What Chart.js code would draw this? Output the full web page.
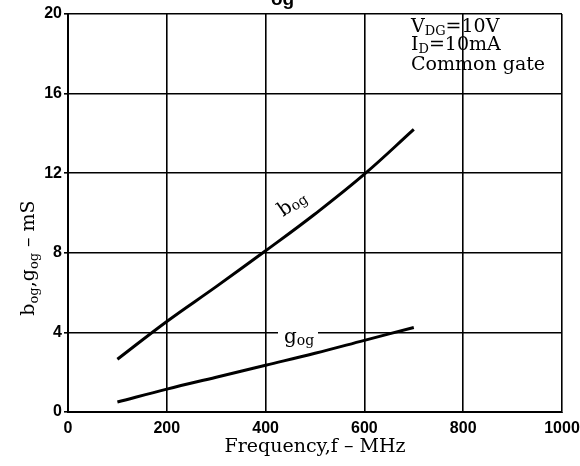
<!DOCTYPE html>
<html>
<head>
<meta charset="utf-8">
<script src="https://cdn.jsdelivr.net/npm/chart.js@4.4.1/dist/chart.umd.min.js"></script>
<style>
  html,body{margin:0;padding:0;background:#fff;}
  #wrap{width:580px;height:466px;}
</style>
</head>
<body>
<div id="wrap"><canvas id="chart" width="580" height="466"></canvas></div>
<script>
/* data */
var freqs  = [100, 200, 300, 400, 500, 600, 700];          // MHz
var bogVals = [2.65, 4.55, 6.3, 8.1, 9.95, 11.95, 14.2];   // mS
var gogVals = [0.5, 1.15, 1.75, 2.35, 2.95, 3.6, 4.25];    // mS
var xTicks = [0, 200, 400, 600, 800, 1000];
var yTicks = [0, 4, 8, 12, 16, 20];

var SERIF = '"DejaVu Serif", "Liberation Serif", serif';
var SANS = '"Liberation Sans", Arial, sans-serif';

function pairs(xs, ys){
  return xs.map(function(x, i){ return {x:x, y:ys[i]}; });
}

// draw a run of text pieces (for subscripts)
function drawRich(ctx, x, y, parts){
  var cx = x;
  parts.forEach(function(p){
    ctx.font = p.font;
    ctx.fillText(p.t, cx, y + (p.dy || 0));
    cx += ctx.measureText(p.t).width;
  });
  return cx;
}
function richWidth(ctx, parts){
  var w = 0;
  parts.forEach(function(p){ ctx.font = p.font; w += ctx.measureText(p.t).width; });
  return w;
}

var labelsPlugin = {
  id:'labels',
  afterDraw:function(chart){
    var ctx = chart.ctx, xs = chart.scales.x, ys = chart.scales.y;
    ctx.save();
    ctx.fillStyle = '#000';
    ctx.textBaseline = 'alphabetic';
    ctx.textAlign = 'left';

    // clipped title at the very top
    drawRich(ctx, 256, 3, [{t:'-', font:'bold 18px '+SANS}]);
    drawRich(ctx, 271, 5, [{t:'og', font:'bold 19px '+SANS}]);

    // condition box
    var big = '19px '+SERIF, sub = '13px '+SERIF;
    drawRich(ctx, 411, 32, [{t:'V', font:big},{t:'DG', font:sub, dy:3},{t:'=10V', font:big}]);
    drawRich(ctx, 411, 50, [{t:'I', font:big},{t:'D', font:sub, dy:3},{t:'=10mA', font:big}]);
    drawRich(ctx, 411, 70, [{t:'Common gate', font:big}]);

    // y axis title, rotated
    var yParts = [{t:'b', font:'19px '+SERIF},{t:'og', font:'13px '+SERIF, dy:4},
                  {t:',g', font:'19px '+SERIF},{t:'og', font:'13px '+SERIF, dy:4},
                  {t:' \u2013 mS', font:'19px '+SERIF}];
    ctx.save();
    ctx.translate(34, 258);
    ctx.rotate(-Math.PI/2);
    drawRich(ctx, -richWidth(ctx, yParts)/2, 0, yParts);
    ctx.restore();

    // b_og label along its curve
    ctx.save();
    ctx.translate(xs.getPixelForValue(435), ys.getPixelForValue(9.3) - 10);
    ctx.rotate(-0.6);
    drawRich(ctx, 0, 0, [{t:'b', font:'20px '+SERIF},{t:'og', font:'14px '+SERIF, dy:2}]);
    ctx.restore();

    // g_og label sitting on the 4 mS grid line
    var gx = 278, gy = ys.getPixelForValue(4);
    ctx.fillStyle = '#fff';
    ctx.fillRect(gx, gy - 4, 40, 9);
    ctx.fillStyle = '#000';
    drawRich(ctx, gx + 6, gy + 11, [{t:'g', font:'20px '+SERIF},{t:'og', font:'14px '+SERIF, dy:2}]);
    ctx.restore();
  }
};

var ctx = document.getElementById('chart');
new Chart(ctx, {
  type:'line',
  data:{
    datasets:[
      {label:'bog', data:pairs(freqs, bogVals)},
      {label:'gog', data:pairs(freqs, gogVals)}
    ]
  },
  options:{
    responsive:false,
    animation:false,
    devicePixelRatio:1,
    layout:{padding:{top:14, right:18, left:0, bottom:0}},
    elements:{
      line:{borderColor:'#000', borderWidth:3, tension:0.4, fill:false},
      point:{radius:0}
    },
    plugins:{
      legend:{display:false},
      tooltip:{enabled:false}
    },
    scales:{
      x:{
        type:'linear', min:0, max:1000,
        afterBuildTicks:function(s){ s.ticks = xTicks.map(function(v){ return {value:v}; }); },
        afterFit:function(s){ s.height = 54; s.paddingLeft = 0; s.paddingRight = 0; },
        grid:{color:'#000', lineWidth:1.6, tickLength:0},
        border:{color:'#000', width:2},
        ticks:{color:'#000', font:{family:SANS, size:16, weight:'bold'}, padding:7, maxRotation:0,
               callback:function(v){ return String(v); }},
        title:{display:true, text:'Frequency,f \u2013 MHz', color:'#000',
               font:{family:SERIF, size:19}, padding:{top:0, bottom:8}}
      },
      y:{
        type:'linear', min:0, max:20,
        afterBuildTicks:function(s){ s.ticks = yTicks.map(function(v){ return {value:v}; }); },
        afterFit:function(s){ s.width = 68; },
        grid:{color:'#000', lineWidth:1.6, tickLength:4},
        border:{color:'#000', width:2},
        ticks:{color:'#000', font:{family:SANS, size:16, weight:'bold'}, padding:2,
               callback:function(v){ return String(v); }}
      }
    }
  },
  plugins:[labelsPlugin]
});
</script>
</body>
</html>
